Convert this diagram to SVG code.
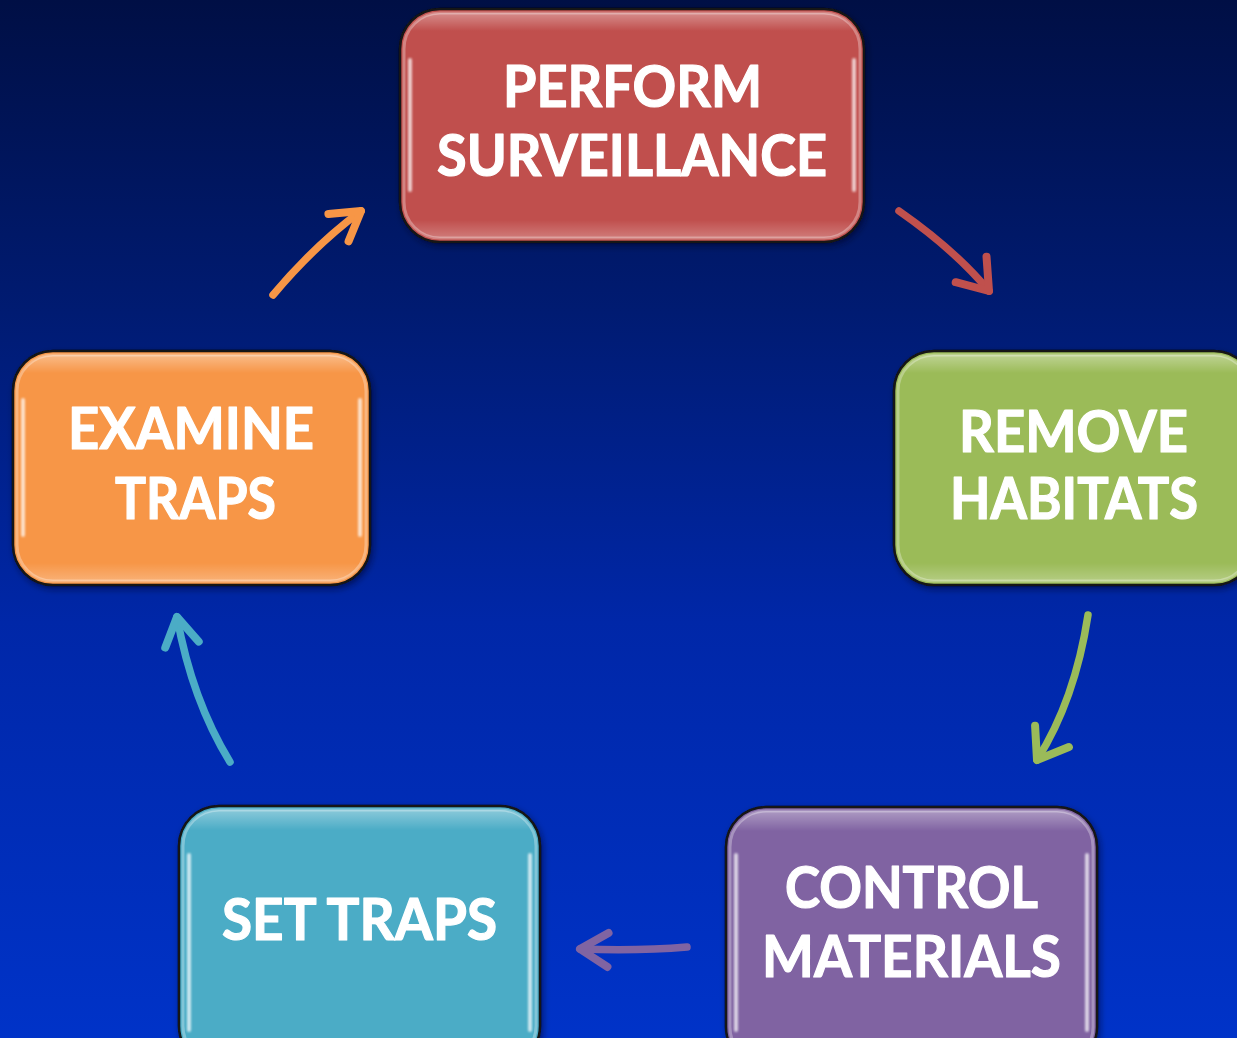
<svg xmlns="http://www.w3.org/2000/svg" width="1237" height="1038" viewBox="0 0 1237 1038">
<defs>
<linearGradient id="bg" x1="0" y1="0" x2="0" y2="1">
<stop offset="0" stop-color="#000f45"/>
<stop offset="0.3" stop-color="#001b72"/>
<stop offset="0.6" stop-color="#0027a8"/>
<stop offset="1" stop-color="#0033c8"/>
</linearGradient>
<linearGradient id="gloss" x1="0" y1="0" x2="0" y2="1">
<stop offset="0" stop-color="#ffffff" stop-opacity="0.35"/>
<stop offset="0.08" stop-color="#ffffff" stop-opacity="0"/>
<stop offset="0.92" stop-color="#ffffff" stop-opacity="0"/>
<stop offset="1" stop-color="#ffffff" stop-opacity="0.25"/>
</linearGradient>
<filter id="soft" x="-10%" y="-10%" width="120%" height="120%">
<feGaussianBlur stdDeviation="1.2"/>
</filter>
<filter id="shadow" x="-10%" y="-10%" width="130%" height="130%">
<feDropShadow dx="2" dy="3" stdDeviation="3" flood-color="#000020" flood-opacity="0.5"/>
</filter>
<marker id="mRed" markerUnits="userSpaceOnUse" viewBox="-36 -28 42 56" refX="0" refY="0" markerWidth="42" markerHeight="56" orient="auto">
<path d="M-28,-20 L0,0 L-28,20" fill="none" stroke="#c0504d" stroke-width="8" stroke-linecap="round" stroke-linejoin="round"/>
</marker>
<marker id="mGreen" markerUnits="userSpaceOnUse" viewBox="-36 -28 42 56" refX="0" refY="0" markerWidth="42" markerHeight="56" orient="auto">
<path d="M-28,-20 L0,0 L-28,20" fill="none" stroke="#9bbb59" stroke-width="8" stroke-linecap="round" stroke-linejoin="round"/>
</marker>
<marker id="mPurple" markerUnits="userSpaceOnUse" viewBox="-36 -28 42 56" refX="0" refY="0" markerWidth="42" markerHeight="56" orient="auto">
<path d="M-28,-17 L0,0 L-28,17" fill="none" stroke="#8064a2" stroke-width="8" stroke-linecap="round" stroke-linejoin="round"/>
</marker>
<marker id="mTeal" markerUnits="userSpaceOnUse" viewBox="-36 -28 42 56" refX="0" refY="0" markerWidth="42" markerHeight="56" orient="auto">
<path d="M-28,-17 L0,0 L-28,17" fill="none" stroke="#4bacc6" stroke-width="8" stroke-linecap="round" stroke-linejoin="round"/>
</marker>
<marker id="mOrange" markerUnits="userSpaceOnUse" viewBox="-36 -28 42 56" refX="0" refY="0" markerWidth="42" markerHeight="56" orient="auto">
<path d="M-28,-17 L0,0 L-28,17" fill="none" stroke="#f79646" stroke-width="8" stroke-linecap="round" stroke-linejoin="round"/>
</marker>
</defs>
<style>
.box{stroke:#141414;stroke-width:2.5;filter:url(#shadow)}
.glossy{fill:url(#gloss);stroke:#ffffff;stroke-opacity:0.3;stroke-width:3}
.hl{fill:none;stroke:#ffffff;stroke-width:4;stroke-linecap:round;stroke-opacity:0.7;filter:url(#soft)}
.lbl{font-family:Lato,"Open Sans","Liberation Sans",sans-serif;font-weight:bold;font-size:57px;fill:#ffffff;stroke:#ffffff;stroke-width:1.2;stroke-linejoin:round;text-anchor:start}
.arr{fill:none;stroke-width:7.5;stroke-linecap:round}
</style>
<rect x="0" y="0" width="1237" height="1038" fill="url(#bg)"/>

<g id="connectors">
<path class="arr" d="M899,211 Q955,250 989,291" stroke="#c0504d" marker-end="url(#mRed)"/>
<path class="arr" d="M1088,615 Q1075,700 1037,760" stroke="#9bbb59" marker-end="url(#mGreen)"/>
<path class="arr" d="M687,947 Q640,951 580,949" stroke="#8064a2" marker-end="url(#mPurple)"/>
<path class="arr" d="M230,762 Q192,700 177,617" stroke="#4bacc6" marker-end="url(#mTeal)"/>
<path class="arr" d="M273,295 Q315,245 361,211" stroke="#f79646" marker-end="url(#mOrange)"/>
</g>

<g id="node-perform">
<rect class="box" x="400" y="9" width="464" height="233" rx="40" fill="#c0504d"/>
<rect class="glossy" x="404" y="13" width="456" height="225" rx="36"/>
<path class="hl" d="M410,60 L410,190 M854,60 L854,190"/>
<text class="lbl" x="503" y="107" textLength="259" lengthAdjust="spacingAndGlyphs">PERFORM</text>
<text class="lbl" x="437" y="176" textLength="390" lengthAdjust="spacingAndGlyphs">SURVEILLANCE</text>
</g>

<g id="node-remove">
<rect class="box" x="894" y="351" width="360" height="234" rx="40" fill="#9bbb59"/>
<rect class="glossy" x="898" y="355" width="352" height="226" rx="36"/>
<path class="hl" d="M904,400 L904,535"/>
<text class="lbl" x="959" y="452" textLength="229" lengthAdjust="spacingAndGlyphs">REMOVE</text>
<text class="lbl" x="950" y="519" textLength="248" lengthAdjust="spacingAndGlyphs">HABITATS</text>
</g>

<g id="node-control">
<rect class="box" x="726" y="807" width="371" height="260" rx="40" fill="#8064a2"/>
<rect class="glossy" x="730" y="811" width="363" height="252" rx="36"/>
<path class="hl" d="M736,855 L736,1030 M1087,855 L1087,1030"/>
<text class="lbl" x="785" y="908" textLength="253" lengthAdjust="spacingAndGlyphs">CONTROL</text>
<text class="lbl" x="762" y="977" textLength="299" lengthAdjust="spacingAndGlyphs">MATERIALS</text>
</g>

<g id="node-set">
<rect class="box" x="179" y="806" width="361" height="260" rx="40" fill="#4bacc6"/>
<rect class="glossy" x="183" y="810" width="353" height="252" rx="36"/>
<path class="hl" d="M189,855 L189,1030 M530,855 L530,1030"/>
<text class="lbl" x="222" y="940" textLength="275" lengthAdjust="spacingAndGlyphs">SET TRAPS</text>
</g>

<g id="node-examine">
<rect class="box" x="13" y="351" width="357" height="234" rx="40" fill="#f79646"/>
<rect class="glossy" x="17" y="355" width="349" height="226" rx="36"/>
<path class="hl" d="M23,400 L23,535 M360,400 L360,535"/>
<text class="lbl" x="68" y="449" textLength="246" lengthAdjust="spacingAndGlyphs">EXAMINE</text>
<text class="lbl" x="115" y="519" textLength="161" lengthAdjust="spacingAndGlyphs">TRAPS</text>
</g>
</svg>
